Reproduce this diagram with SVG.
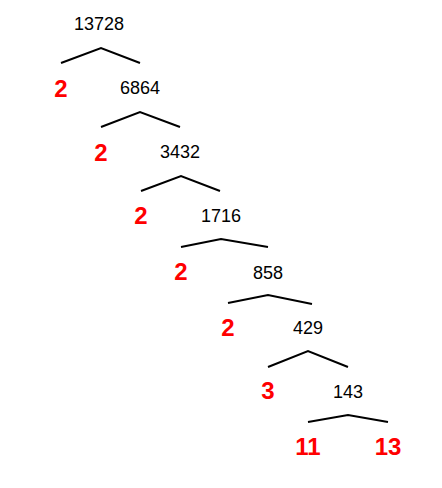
<svg xmlns="http://www.w3.org/2000/svg" width="442" height="488" viewBox="0 0 442 488">
<style>
.n{font-family:"Liberation Sans",Arial,sans-serif;font-size:18px;fill:#000;text-anchor:middle}
.p{font-family:"Liberation Sans",Arial,sans-serif;font-size:24px;font-weight:bold;fill:#ff0000;text-anchor:middle}
.c{fill:none;stroke:#000;stroke-width:2}
</style>
<rect width="442" height="488" fill="#fff"/>
<g id="connectors">
<polyline class="c" points="61,63 101,48 140,63"/>
<polyline class="c" points="101,127 140,112 180,127"/>
<polyline class="c" points="141,191 181,176 220,191"/>
<polyline class="c" points="181,247 221,239 268,247"/>
<polyline class="c" points="228,303 268,295 312,304"/>
<polyline class="c" points="268,367 308,351 348,367"/>
<polyline class="c" points="308,422 348,415 388,422"/>
</g>
<g id="n13728"><text class="n" x="99" y="30">13728</text></g>
<g id="p1"><text class="p" x="61" y="97">2</text></g>
<g id="n6864"><text class="n" x="140" y="94">6864</text></g>
<g id="p2"><text class="p" x="101" y="161">2</text></g>
<g id="n3432"><text class="n" x="180" y="158">3432</text></g>
<g id="p3"><text class="p" x="141" y="224">2</text></g>
<g id="n1716"><text class="n" x="221" y="222">1716</text></g>
<g id="p4"><text class="p" x="181" y="280">2</text></g>
<g id="n858"><text class="n" x="268" y="279">858</text></g>
<g id="p5"><text class="p" x="228" y="336">2</text></g>
<g id="n429"><text class="n" x="308" y="334">429</text></g>
<g id="p6"><text class="p" x="268" y="399">3</text></g>
<g id="n143"><text class="n" x="348" y="398">143</text></g>
<g id="p7"><text class="p" x="308" y="455">11</text></g>
<g id="p8"><text class="p" x="388" y="455">13</text></g>
</svg>
